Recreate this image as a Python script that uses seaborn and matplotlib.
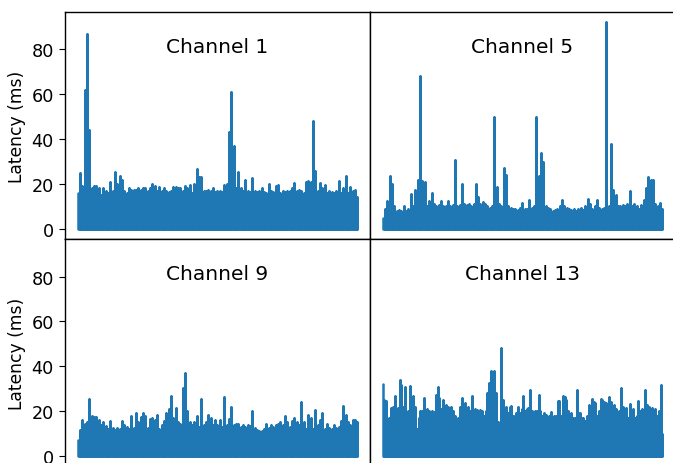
import pandas as pd
import matplotlib
matplotlib.use("Agg")
import matplotlib.pyplot as plt
import seaborn as sns


BLUE = "#1f77b4"

CHANNELS = ["Channel 1", "Channel 5", "Channel 9", "Channel 13"]

# peak latency (ms) per bucket left to right
CH1_PEAKS = [
    16, 25, 19, 62, 87, 44, 18, 19, 19, 18, 15, 18, 17, 16, 21, 17, 25.5, 20, 23.5, 22,
    17, 16, 18, 17.5, 17.5, 17.5, 18, 17.5, 18, 18, 17, 18, 20, 19, 17, 18.5, 17, 18, 17, 16.5,
    17, 18.5, 18.5, 18, 18, 17, 19, 18, 19.5, 16, 20, 26.5, 23, 23, 17, 17, 17.5, 17, 18, 16.5,
    17, 17, 16.5, 19.5, 20, 43, 61, 37, 18, 25.5, 18, 17, 22, 17, 16.5, 22.5, 17, 16.5, 17, 18,
    16.5, 16, 20, 17, 16.5, 19, 19.5, 16, 17, 16.5, 17, 17, 18, 20.5, 17, 17.5, 17, 16, 21, 21.5,
    21, 48, 26, 17, 20.5, 18, 19.5, 16, 17, 16.5, 16, 17, 21.5, 16, 18, 23.5, 16, 18.5, 17, 17.5,
    14,
]
CH5_PEAKS = [
    5, 9, 12.5, 23.5, 20, 10, 8, 8.5, 8, 10, 8, 9, 15.5, 10, 17.5, 22, 68, 21.5, 21, 10,
    12.5, 16, 11, 10, 10.5, 12.5, 10, 10, 12.5, 10, 10.5, 30.5, 10, 10.5, 20, 11, 10.5, 11, 10, 11,
    20, 14, 11, 12, 11, 10, 9.5, 10, 50, 18.5, 11, 10, 27, 24, 10, 9.5, 9, 9, 8.5, 9.5,
    11.5, 9, 9, 13, 9.5, 10, 50, 23.5, 34, 30, 10, 9.5, 9, 8, 8.5, 9, 10, 13, 10, 9.5,
    9, 8.5, 9, 8, 9, 9.5, 8.5, 10, 13.5, 11, 9, 10, 13, 9.5, 9, 9.5, 92, 10, 38, 17.5,
    15, 10, 10, 10.5, 10, 11, 17, 10, 11, 10, 9, 10.5, 13, 18, 23, 22, 22, 11, 10, 11.5,
    9,
]
CH9_PEAKS = [
    7, 11.7, 16, 14.5, 15, 25.3, 18, 17.5, 17.5, 16, 14, 15, 13.5, 12, 15.5, 12.5, 11.5, 12.5, 12, 15.8,
    14, 13, 12, 17.8, 12.5, 19, 15, 17.5, 19.4, 18, 12.5, 16.5, 17, 16, 18.3, 12, 14, 15.5, 19.3, 21,
    26.6, 17, 21.6, 15, 14.5, 30.2, 37.2, 20, 15, 14, 15, 18, 13, 25.5, 14, 15, 18.2, 17, 14, 16,
    14, 16, 13, 26.3, 14, 16.5, 22, 14, 14.5, 14.5, 13, 14, 13, 14, 13.5, 20, 12.5, 11.5, 11, 11,
    12, 14.2, 12.5, 14, 13, 14, 14.5, 15, 14, 17.7, 15, 13, 15.5, 17, 15, 14, 24, 15, 12, 18.2,
    17, 12, 20.4, 14, 16, 19, 12, 14.5, 12.5, 12, 14, 12.5, 13, 15.5, 22.2, 18.5, 15, 14, 16, 16,
    15,
]
CH13_PEAKS = [
    32.2, 25, 24.7, 16.2, 17, 21.4, 22, 26.6, 21, 21.4, 34, 31.8, 22, 30.6, 18, 20, 31.3, 25, 27, 22,
    12, 17, 20, 20, 26, 19, 21, 20.2, 17, 20, 19.6, 27.3, 30.6, 26, 21, 25, 22, 23, 22, 20,
    22, 20, 18, 16.5, 17, 22, 26, 18, 23.6, 21, 22, 20, 26.6, 20.7, 21, 20.5, 20, 20.7, 20, 18,
    20, 28, 32.5, 37.7, 30, 38, 28, 15, 13, 48, 25, 20, 22, 19, 21.9, 22.5, 18, 18, 19, 22,
    19, 21, 26.9, 20, 21, 21.4, 29.5, 20, 19, 20, 20, 27.3, 20, 18, 19, 18.5, 17, 18, 19.5, 15.5,
    18, 18, 24.7, 24.4, 18, 26.6, 26.3, 25.1, 20, 18, 19, 17, 17, 29.5, 19, 19.2, 17, 17, 15.5, 18,
    22.6, 19, 25.4, 24, 23.6, 18, 20, 25.4, 25.1, 24, 23.6, 21, 26.3, 24, 22, 22.9, 21, 18, 20, 30.3,
    22, 21, 21.4, 17, 23.2, 19, 21, 17, 18, 24.4, 20, 21, 19, 29.5, 22.9, 22, 21, 21.5, 20.5, 21,
    18, 20, 31.8, 10,
]

ALL_PEAKS = [CH1_PEAKS, CH5_PEAKS, CH9_PEAKS, CH13_PEAKS]


def envelope_frame(peaks):
    # each bucket drawn from its peak down to the floor
    rows = []
    for i, peak in enumerate(peaks):
        rows.append((i, peak))
        rows.append((i, 0))
    return pd.DataFrame(rows, columns=["sample", "latency"])


if __name__ == "__main__":
    sns.set_style("ticks", {"axes.edgecolor": "black", "xtick.color": "black",
                            "ytick.color": "black", "text.color": "black",
                            "axes.labelcolor": "black"})
    plt.rcParams["font.family"] = ["DejaVu Sans"]

    fig, axes = plt.subplots(2, 2, sharey=True, figsize=(6.73, 4.64), dpi=100)
    fig.subplots_adjust(left=0.0966, right=1.0029, top=0.972, bottom=-0.0075,
                        wspace=0, hspace=0)

    for ax, name, peaks in zip(axes.flat, CHANNELS, ALL_PEAKS):
        sns.lineplot(
            data=envelope_frame(peaks),
            x="sample",
            y="latency",
            estimator=None,
            sort=False,
            color=BLUE,
            linewidth=1.8,
            drawstyle="steps-post",
            ax=ax
        )
        ax.margins(x=0.045)
        ax.set_xticks([])
        ax.set_xlabel("")
        ax.set_ylabel("")
        ax.text(0.5, 0.85, name, transform=ax.transAxes,
                ha="center", va="center", fontsize=14.5)
        for spine in ax.spines.values():
            spine.set_visible(True)
            spine.set_linewidth(1.0)

    axes[0, 0].set_yticks([0, 20, 40, 60, 80])
    for ax in axes[:, 0]:
        ax.set_ylabel("Latency (ms)", fontsize=12.3)
        ax.tick_params(axis="y", labelsize=12.7, direction="out", length=4.5)
    for ax in axes[:, 1]:
        ax.tick_params(axis="y", left=False, labelleft=False)

    plt.savefig("out.png", dpi=100)
    plt.close()
